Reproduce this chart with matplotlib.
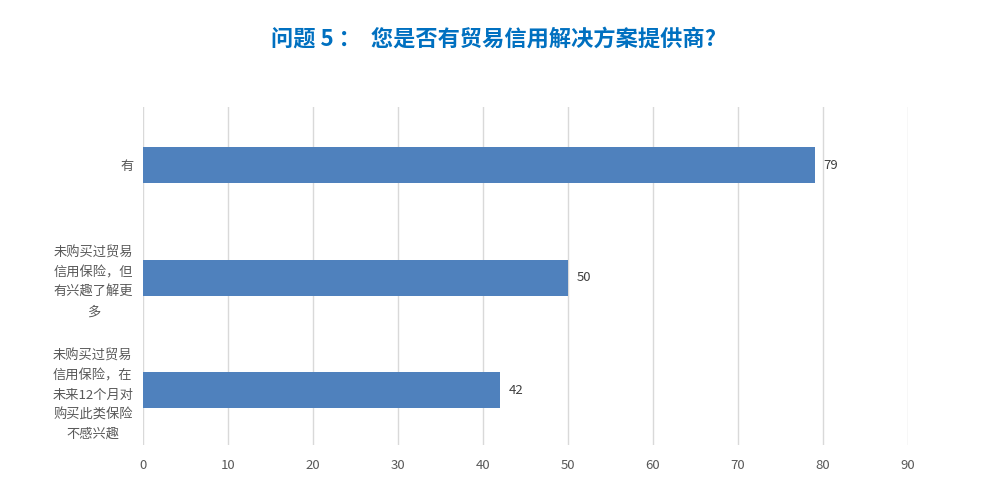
import matplotlib
matplotlib.use("Agg")
import matplotlib.pyplot as plt

plt.rcParams['font.family'] = ['Noto Sans CJK SC', 'DejaVu Sans']

categories = ["有", "未购买过贸易\n信用保险，但\n有兴趣了解更\n多", "未购买过贸易\n信用保险，在\n未来12个月对\n购买此类保险\n不感兴趣"]
values = [79, 50, 42]
xticks = [0, 10, 20, 30, 40, 50, 60, 70, 80, 90]
title = "问题 5 ：  您是否有贸易信用解决方案提供商?"

fig = plt.figure(figsize=(9.88, 4.94), dpi=100)
ax = fig.add_axes([143/988, 1-445/494, 765/988, 338/494])

ypos = list(range(len(categories)))
bars = ax.barh(ypos, values, height=0.32, color='#4F81BD', zorder=3)
ax.set_ylim(len(categories)-0.5-0.015, -0.5-0.015)
ax.set_xlim(0, 90)
ax.set_xticks(xticks)
ax.set_xticklabels([str(t) for t in xticks], fontsize=9.5, color='#595959')
ax.set_yticks(ypos)
ax.set_yticklabels(categories, fontsize=9.5, color='#595959', multialignment='center', linespacing=1.65)
ax.tick_params(axis='both', length=0)
ax.tick_params(axis='y', pad=7)
ax.tick_params(axis='x', pad=10)
for s in ax.spines.values():
    s.set_visible(False)
ax.grid(axis='x', color='#D9D9D9', linewidth=1, zorder=0)
for y, v in zip(ypos, values):
    ax.text(v + 1.0, y, str(v), va='center', ha='left', fontsize=9.5, color='#404040')

fig.text(0.5, 1-39/494, title, ha='center', va='center', fontsize=16, fontweight='bold', color='#0070C0')

fig.savefig('out.png', dpi=100)
